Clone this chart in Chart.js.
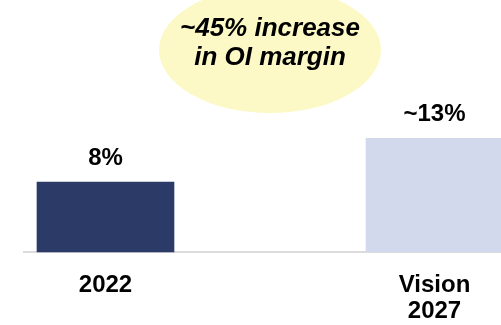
<!DOCTYPE html>
<html>
<head>
<meta charset="utf-8">
<script src="https://cdn.jsdelivr.net/npm/chart.js@4.4.1/dist/chart.umd.min.js"></script>
<style>
  html, body { margin: 0; padding: 0; background: #fff; }
  #wrap { width: 501px; height: 325px; position: relative; }
</style>
</head>
<body>
<div id="wrap"><canvas id="marginChart"></canvas></div>
<script>
// OI margin: 2022 actual vs Vision 2027 target
var categories = ['2022', ['Vision', '2027']];
var positions = [0, 1];
var marginValues = [8, 13];
var valueLabels = ['8%', '~13%'];
var barColors = ['#2b3a66', '#d3d9ec'];
var calloutLines = ['~45% increase', 'in OI margin'];

var points = positions.map(function (p, i) {
  return { x: p, y: marginValues[i] };
});

// yellow bubble sitting between the two bars
var calloutBubble = {
  id: 'calloutBubble',
  beforeDatasetsDraw: function (chart) {
    var ctx = chart.ctx;
    var cx = chart.scales.x.getPixelForValue(0.5);
    var cy = 50;
    ctx.save();
    ctx.beginPath();
    ctx.ellipse(cx, cy, 111, 63, 0, 0, Math.PI * 2);
    ctx.fillStyle = '#fcf9c6';
    ctx.fill();
    ctx.fillStyle = '#000';
    ctx.font = 'italic bold 26px "Liberation Sans", Arial, sans-serif';
    ctx.textAlign = 'center';
    ctx.textBaseline = 'middle';
    ctx.fillText(calloutLines[0], cx, 29);
    ctx.fillText(calloutLines[1], cx, 58);
    ctx.restore();
  }
};

// percentage labels above each bar
var barValueLabels = {
  id: 'barValueLabels',
  afterDatasetsDraw: function (chart) {
    var ctx = chart.ctx;
    var meta = chart.getDatasetMeta(0);
    ctx.save();
    ctx.fillStyle = '#000';
    ctx.font = 'bold 24px "Liberation Sans", Arial, sans-serif';
    ctx.textAlign = 'center';
    ctx.textBaseline = 'bottom';
    meta.data.forEach(function (bar, i) {
      ctx.fillText(valueLabels[i], bar.x, bar.y - 12);
    });
    ctx.restore();
  }
};

new Chart(document.getElementById('marginChart'), {
  type: 'bar',
  data: {
    datasets: [{
      data: points,
      backgroundColor: barColors,
      borderWidth: 0,
      barThickness: 137,
      clip: false
    }]
  },
  options: {
    responsive: true,
    maintainAspectRatio: false,
    animation: false,
    layout: { padding: { left: 24, right: 0, top: 0, bottom: 0 } },
    plugins: {
      legend: { display: false },
      tooltip: { enabled: false }
    },
    scales: {
      x: {
        type: 'linear',
        offset: false,
        min: -0.2477,
        max: 1.2021,
        grid: { display: false },
        border: { display: true, color: '#dcdcdc', width: 2 },
        afterBuildTicks: function (scale) {
          scale.ticks = positions.map(function (p) { return { value: p }; });
        },
        afterFit: function (scale) {
          scale.height = 73;
        },
        ticks: {
          autoSkip: false,
          maxRotation: 0,
          padding: 12,
          color: '#000',
          font: { family: '"Liberation Sans", Arial, sans-serif', size: 24, weight: 'bold', lineHeight: 1.08 },
          callback: function (value) {
            return categories[positions.indexOf(value)];
          }
        }
      },
      y: {
        display: false,
        min: 0,
        max: 28.8
      }
    }
  },
  plugins: [calloutBubble, barValueLabels]
});
</script>
</body>
</html>
